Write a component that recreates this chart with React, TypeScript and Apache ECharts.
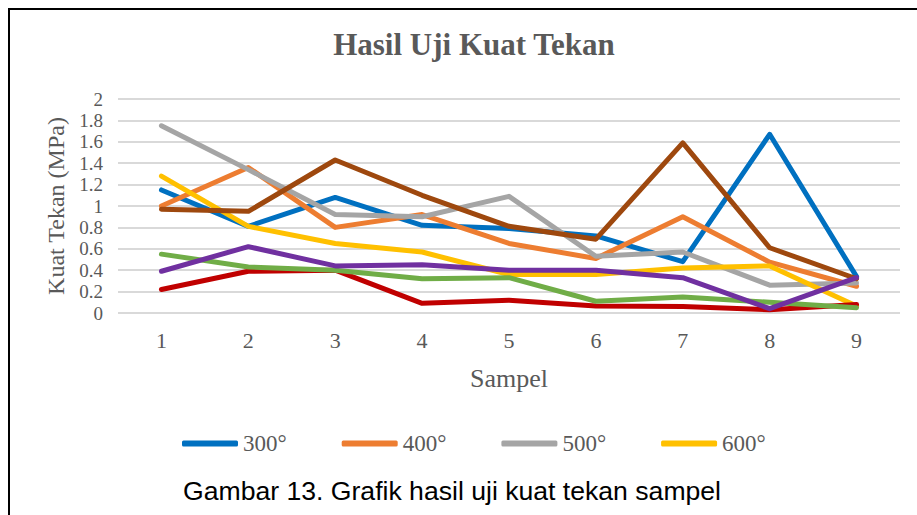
import React, { useEffect, useRef } from "react";
import * as echarts from "echarts";

const categories = ["1", "2", "3", "4", "5", "6", "7", "8", "9"];
const legendNames = ["300°", "400°", "500°", "600°"];

const s300 = [1.15, 0.81, 1.08, 0.82, 0.79, 0.72, 0.48, 1.67, 0.34];
const s400 = [1.0, 1.36, 0.8, 0.92, 0.65, 0.51, 0.9, 0.475, 0.25];
const s500 = [1.75, 1.34, 0.92, 0.9, 1.09, 0.53, 0.57, 0.26, 0.28];
const s600 = [1.28, 0.81, 0.65, 0.57, 0.36, 0.36, 0.42, 0.44, 0.065];
const s700 = [0.97, 0.95, 1.43, 1.1, 0.81, 0.69, 1.59, 0.61, 0.32];
const s800 = [0.22, 0.39, 0.4, 0.09, 0.12, 0.065, 0.06, 0.03, 0.08];
const s900 = [0.55, 0.43, 0.4, 0.32, 0.33, 0.11, 0.15, 0.1, 0.05];
const s1000 = [0.39, 0.62, 0.44, 0.45, 0.4, 0.4, 0.33, 0.04, 0.33];

const seriesDefs = [
  { name: "300°", data: s300, color: "#0070C0" },
  { name: "400°", data: s400, color: "#ED7D31" },
  { name: "500°", data: s500, color: "#A5A5A5" },
  { name: "600°", data: s600, color: "#FFC000" },
  { name: "700°", data: s700, color: "#9E480E" },
  { name: "800°", data: s800, color: "#C00000" },
  { name: "900°", data: s900, color: "#70AD47" },
  { name: "1000°", data: s1000, color: "#7030A0" },
];

const SERIF = "'Liberation Serif', 'Times New Roman', serif";
const SANS = "'Liberation Sans', Arial, sans-serif";
const GREY = "#595959";

export default function App() {
  const ref = useRef<HTMLDivElement>(null);
  useEffect(() => {
    document.body.style.margin = "0";
    if (!ref.current) return;
    const chart = echarts.init(ref.current, undefined, { renderer: "svg" });
    chart.setOption({
      animation: false,
      backgroundColor: "#ffffff",
      title: {
        text: "Hasil Uji Kuat Tekan",
        left: 469,
        textAlign: "center",
        top: 24,
        textStyle: { fontFamily: SERIF, fontSize: 31, fontWeight: "bold", color: GREY },
      },
      legend: {
        data: legendNames,
        left: 182,
        top: 432,
        padding: 0,
        itemWidth: 56,
        itemHeight: 6,
        itemGap: 55,
        icon: "roundRect",
        textStyle: { fontFamily: SERIF, fontSize: 23, color: GREY },
      },
      grid: { left: 118, right: 17, top: 99, bottom: 202, containLabel: false },
      xAxis: {
        type: "category",
        data: categories,
        boundaryGap: true,
        name: "Sampel",
        nameLocation: "middle",
        nameGap: 52,
        nameTextStyle: { fontFamily: SERIF, fontSize: 26, color: GREY },
        axisLine: { show: false },
        axisTick: { show: false },
        axisLabel: { fontFamily: SERIF, fontSize: 22, color: GREY, margin: 16 },
      },
      yAxis: {
        type: "value",
        min: 0,
        max: 2,
        interval: 0.2,
        name: "Kuat Tekan (MPa)",
        nameLocation: "middle",
        nameGap: 44,
        nameRotate: 90,
        nameTextStyle: { fontFamily: SERIF, fontSize: 24, color: GREY },
        axisLine: { show: false },
        axisTick: { show: false },
        axisLabel: {
          fontFamily: SERIF,
          fontSize: 19,
          color: GREY,
          margin: 15,
          formatter: (v: number) => String(Math.round(v * 10) / 10),
        },
        splitLine: { lineStyle: { color: "#d9d9d9", width: 2 } },
      },
      series: seriesDefs.map((s) => ({
        name: s.name,
        type: "line",
        data: s.data,
        symbol: "none",
        color: s.color,
        lineStyle: { color: s.color, width: 5, cap: "round", join: "round" },
        itemStyle: { color: s.color },
      })),
      graphic: [
        {
          type: "rect",
          shape: { x: 9, y: 9, width: 1000, height: 600 },
          style: { fill: "none", stroke: "#000", lineWidth: 2 },
          silent: true,
        },
        {
          type: "text",
          x: 183,
          y: 491,
          style: {
            text: "Gambar 13. Grafik hasil uji kuat tekan sampel",
            fontFamily: SANS,
            fontSize: 26.6,
            fill: "#000",
            textVerticalAlign: "middle",
          },
        },
      ],
    });
    return () => chart.dispose();
  }, []);
  return <div ref={ref} style={{ width: 917, height: 515 }} />;
}
